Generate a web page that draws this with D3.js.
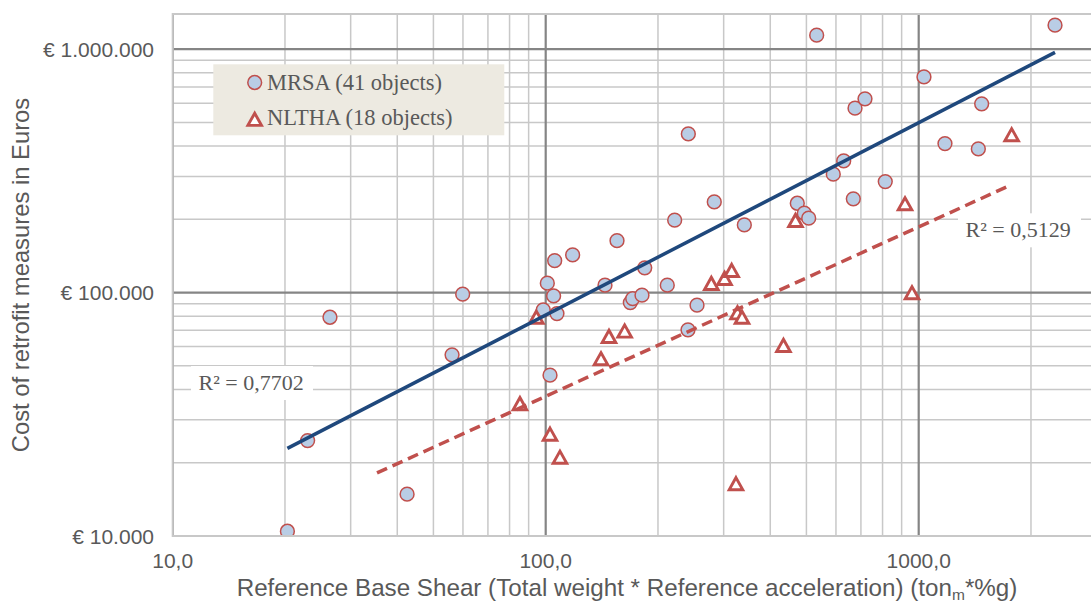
<!DOCTYPE html>
<html>
<head>
<meta charset="utf-8">
<script src="https://cdn.jsdelivr.net/npm/d3@7"></script>
<style>
body { margin: 0; background: #fff; }
svg { display: block; font-family: "Liberation Sans", Arial, sans-serif; }
</style>
</head>
<body>
<svg width="1091" height="604"></svg>
<script>
// MRSA objects: base shear (ton*%g) and retrofit cost (EUR)
var mrsaX = [20.3, 23.0, 26.4, 42.5, 56.1, 59.9, 98.5, 101, 102.7, 105, 105.7, 107.2, 118.1, 144.2,
	155.3, 168.6, 171.1, 181.2, 184.3, 211.8, 221.7, 240.7, 241.2, 254.5, 283.1, 340.8, 472.6,
	493.5, 507.1, 532.7, 590.2, 629.4, 667.9, 674.9, 717.8, 813.5, 1033, 1176, 1445, 1475, 2320];
var mrsaY = [10460, 24660, 79200, 14850, 55500, 98500, 84900, 109300, 45800, 96900, 135300, 82000,
	142800, 107300, 163500, 91000, 94500, 97600, 126400, 107300, 198400, 70300, 448700, 88800,
	235800, 189700, 232900, 211900, 202200, 1141600, 306500, 347600, 242700, 572200, 625100,
	285800, 769500, 409500, 389400, 596300, 1255000];

// NLTHA objects
var nlthaX = [85.3, 94.4, 102.7, 109.2, 140.7, 147.8, 162.8, 278.0, 301.6, 315.2, 326.7, 336.0,
	323.7, 433.9, 467.4, 919.0, 959.4, 1775];
var nlthaY = [34900, 79100, 26150, 21030, 53400, 65950, 69400, 108900, 114200, 123100, 82500,
	79100, 16370, 60570, 197600, 231400, 99700, 444500];

var xTicks = [10, 100, 1000],
	xTickLabels = ["10,0", "100,0", "1000,0"];
var yTicks = [10000, 100000, 1000000],
	yTickLabels = ["€ 10.000", "€ 100.000", "€ 1.000.000"];
var legendLabels = ["MRSA (41 objects)", "NLTHA (18 objects)"];
var r2Labels = ["R\u00b2 = 0,7702", "R\u00b2 = 0,5129"];
var nlthaBackward = 50; // trendline forecast backward (units)

var svg = d3.select("svg"),
	plotLeft = 172.7,
	plotTop = 14,
	plotBottom = 536,
	plotRight = 1091;

var xScale = d3.scaleLog().domain([10, 3000]).range([plotLeft, plotLeft + 373 * Math.log10(300)]),
	yScale = d3.scaleLog().domain([10000, 1400000]).range([plotBottom, plotBottom - 243.4 * Math.log10(140)]);

svg.append("rect").attr("width", 1091).attr("height", 604).attr("fill", "#fff");

svg.append("clipPath").attr("id", "plot")
	.append("rect").attr("x", plotLeft).attr("y", plotTop)
	.attr("width", plotRight - plotLeft).attr("height", plotBottom - plotTop);

var plot = svg.append("g").attr("clip-path", "url(#plot)");

function isMajor(v) { return Math.abs(Math.log10(v) - Math.round(Math.log10(v))) < 1e-9; }

// minor grid first, then major
plot.selectAll(".vminor")
	.data(xScale.ticks().filter(function(d) { return !isMajor(d); }))
	.enter().append("line")
	.attr("x1", function(d) { return xScale(d); }).attr("x2", function(d) { return xScale(d); })
	.attr("y1", plotTop).attr("y2", plotBottom)
	.attr("stroke", "#c8c8c8").attr("stroke-width", 1.5);

plot.selectAll(".hminor")
	.data(yScale.ticks().filter(function(d) { return !isMajor(d); }))
	.enter().append("line")
	.attr("x1", plotLeft).attr("x2", plotRight)
	.attr("y1", function(d) { return yScale(d); }).attr("y2", function(d) { return yScale(d); })
	.attr("stroke", "#c8c8c8").attr("stroke-width", 1.5);

plot.selectAll(".vmajor")
	.data(xTicks)
	.enter().append("line")
	.attr("x1", function(d) { return xScale(d); }).attr("x2", function(d) { return xScale(d); })
	.attr("y1", plotTop).attr("y2", plotBottom)
	.attr("stroke", "#858585").attr("stroke-width", 2.2);

plot.selectAll(".hmajor")
	.data(yTicks)
	.enter().append("line")
	.attr("x1", plotLeft).attr("x2", plotRight)
	.attr("y1", function(d) { return yScale(d); }).attr("y2", function(d) { return yScale(d); })
	.attr("stroke", "#858585").attr("stroke-width", 2.2);

// plot frame / axis lines
svg.append("path")
	.attr("d", "M" + plotRight + "," + plotTop + "H" + plotLeft + "V" + plotBottom + "H" + plotRight)
	.attr("fill", "none").attr("stroke", "#c8c8c8").attr("stroke-width", 2);

// legend box
var legend = svg.append("g");
legend.append("rect")
	.attr("x", 213.3).attr("y", 64.3).attr("width", 291).attr("height", 71)
	.attr("fill", "#edeae1");

var triPath = "M0,-6.3L6.8,5.9L-6.8,5.9Z";

// power trendline (least squares in log-log space, as in Excel)
function powerFit(xs, ys) {
	var lx = xs.map(Math.log10), ly = ys.map(Math.log10),
		mx = d3.mean(lx), my = d3.mean(ly);
	var b = d3.sum(lx, function(v, i) { return (v - mx) * (ly[i] - my); }) /
		d3.sum(lx, function(v) { return (v - mx) * (v - mx); });
	var a = my - b * mx;
	return function(x) { return Math.pow(10, a + b * Math.log10(x)); };
}

var line = d3.line()
	.x(function(d) { return xScale(d[0]); })
	.y(function(d) { return yScale(d[1]); });

var fitM = powerFit(mrsaX, mrsaY),
	fitN = powerFit(nlthaX, nlthaY);
var mExt = d3.extent(mrsaX),
	nExt = d3.extent(nlthaX);
nExt[0] = nExt[0] - nlthaBackward;

// markers
plot.selectAll(".mrsa")
	.data(d3.zip(mrsaX, mrsaY))
	.enter().append("circle")
	.attr("class", "mrsa")
	.attr("cx", function(d) { return xScale(d[0]); })
	.attr("cy", function(d) { return yScale(d[1]); })
	.attr("r", 6.9)
	.attr("fill", "#b9cde5").attr("stroke", "#c0504d").attr("stroke-width", 1.5);

plot.selectAll(".nltha")
	.data(d3.zip(nlthaX, nlthaY))
	.enter().append("path")
	.attr("class", "nltha")
	.attr("d", triPath)
	.attr("transform", function(d) { return "translate(" + xScale(d[0]) + "," + yScale(d[1]) + ")"; })
	.attr("fill", "#fff").attr("stroke", "#c0504d").attr("stroke-width", 2.9)
	.attr("stroke-linejoin", "miter");

// trendlines
plot.append("path")
	.attr("d", line([[mExt[0], fitM(mExt[0])], [mExt[1], fitM(mExt[1])]]))
	.attr("fill", "none").attr("stroke", "#1f487c").attr("stroke-width", 3.5);

plot.append("path")
	.attr("d", line([[nExt[0], fitN(nExt[0])], [nExt[1], fitN(nExt[1])]]))
	.attr("fill", "none").attr("stroke", "#c0504d").attr("stroke-width", 3.5)
	.attr("stroke-dasharray", "11,6");

// R² labels
var r2 = svg.selectAll(".r2")
	.data([{x: 191, y: 390, w: 122}, {x: 958, y: 237.3, w: 123}])
	.enter().append("g");
r2.append("rect")
	.attr("x", function(d) { return d.x; })
	.attr("y", function(d) { return d.y - 24; })
	.attr("width", function(d) { return d.w; })
	.attr("height", 34)
	.attr("fill", "#fff");
r2.append("text")
	.attr("x", function(d) { return d.x + 7.5; })
	.attr("y", function(d) { return d.y; })
	.attr("font-family", "'Liberation Serif', 'Times New Roman', serif")
	.attr("font-size", 22)
	.attr("fill", "#595959")
	.text(function(d, i) { return r2Labels[i]; });

// legend entries
legend.append("circle")
	.attr("cx", 254.7).attr("cy", 82.5).attr("r", 6.9)
	.attr("fill", "#b9cde5").attr("stroke", "#c0504d").attr("stroke-width", 1.5);
legend.append("path")
	.attr("d", triPath)
	.attr("transform", "translate(254.7,119.5)")
	.attr("fill", "#fff").attr("stroke", "#c0504d").attr("stroke-width", 2.9);
legend.selectAll(".leg")
	.data(legendLabels)
	.enter().append("text")
	.attr("x", 267)
	.attr("y", function(d, i) { return i === 0 ? 90 : 125.3; })
	.attr("font-family", "'Liberation Serif', 'Times New Roman', serif")
	.attr("font-size", 22.5)
	.attr("fill", "#595959")
	.text(function(d) { return d; });

// tick labels
svg.selectAll(".xlab")
	.data(xTicks)
	.enter().append("text")
	.attr("x", function(d) { return xScale(d); })
	.attr("y", 568)
	.attr("text-anchor", "middle")
	.attr("font-size", 21)
	.attr("fill", "#595959")
	.text(function(d, i) { return xTickLabels[i]; });

svg.selectAll(".ylab")
	.data(yTicks)
	.enter().append("text")
	.attr("x", 154)
	.attr("y", function(d) { return yScale(d) + 7.8; })
	.attr("text-anchor", "end")
	.attr("font-size", 21)
	.attr("fill", "#595959")
	.text(function(d, i) { return yTickLabels[i]; });

// axis titles
var xt = svg.append("text")
	.attr("x", 627)
	.attr("y", 596)
	.attr("text-anchor", "middle")
	.attr("font-size", 24.2)
	.attr("fill", "#595959");
xt.append("tspan").text("Reference Base Shear (Total weight * Reference acceleration) (ton");
xt.append("tspan").attr("dy", 4).attr("font-size", 15.5).text("m");
xt.append("tspan").attr("dy", -4).text("*%g)");

svg.append("text")
	.attr("transform", "translate(29,275) rotate(-90)")
	.attr("text-anchor", "middle")
	.attr("font-size", 23.8)
	.attr("fill", "#595959")
	.text("Cost of retrofit measures in Euros");
</script>
</body>
</html>
